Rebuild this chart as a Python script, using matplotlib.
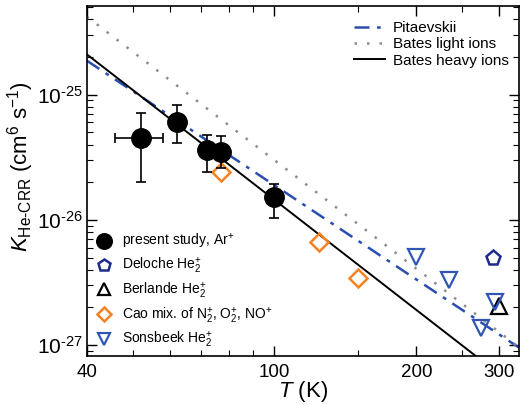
import numpy as np
import matplotlib
matplotlib.use("Agg")
import matplotlib.pyplot as plt
from matplotlib.ticker import FixedLocator, FixedFormatter, NullFormatter
from matplotlib.lines import Line2D

plt.rcParams['font.family'] = ['Liberation Sans', 'DejaVu Sans']
plt.rcParams['mathtext.fontset'] = 'custom'
plt.rcParams['mathtext.rm'] = 'Liberation Sans'
plt.rcParams['mathtext.it'] = 'Liberation Sans:italic'
plt.rcParams['mathtext.bf'] = 'Liberation Sans:bold'

# present study, Ar+
t_ar = [52, 62, 72, 77, 100]
k_ar = [4.5e-26, 6.1e-26, 3.65e-26, 3.5e-26, 1.52e-26]
k_ar_hi = [7.2e-26, 8.2e-26, 4.8e-26, 4.7e-26, 1.95e-26]
k_ar_lo = [2.0e-26, 4.1e-26, 2.4e-26, 2.6e-26, 1.03e-26]
t_ar_lo = [46, 62, 72, 77, 100]
t_ar_hi = [58, 62, 72, 77, 100]

# other measurements
t_deloche = [291]
k_deloche = [5.0e-27]
t_berlande = [300]
k_berlande = [2.05e-27]
t_cao = [77, 124, 150]
k_cao = [2.4e-26, 6.7e-27, 3.45e-27]
t_sons = [200, 234, 294, 274]
k_sons = [5.1e-27, 3.3e-27, 2.2e-27, 1.36e-27]

# theory: K = k40 * (T/40)^n
pit_k40, pit_n = 1.87e-25, -2.5
light_k40, light_n = 4.2e-25, -2.88
heavy_k40, heavy_n = 2.1e-25, -2.92

# ticks
x_ticks = [40, 100, 200, 300]
x_minor = [50, 60, 70, 80, 90, 150, 250]
y_ticks = [1e-27, 1e-26, 1e-25]
y_tick_labels = ['$10^{\u201027}$', '$10^{\u201026}$', '$10^{\u201025}$']

fig = plt.figure(figsize=(5.2, 4.05), dpi=100)
ax = fig.add_axes([0.167, 0.121, 0.831, 0.864])

T = np.logspace(np.log10(40), np.log10(330), 200)
l1, = ax.plot(T, pit_k40 * (T / 40) ** pit_n, color='#2a4db0', lw=1.8,
              ls=(0, (6, 3, 1.5, 3)), label='Pitaevskii')
l2, = ax.plot(T, light_k40 * (T / 40) ** light_n, color='#8c8c8c', lw=1.8,
              ls=(0, (1, 4)), label='Bates light ions')
l3, = ax.plot(T, heavy_k40 * (T / 40) ** heavy_n, color='black', lw=1.4,
              label='Bates heavy ions')

yerr = [np.array(k_ar) - np.array(k_ar_lo), np.array(k_ar_hi) - np.array(k_ar)]
xerr = [np.array(t_ar) - np.array(t_ar_lo), np.array(t_ar_hi) - np.array(t_ar)]
ax.errorbar(t_ar, k_ar, yerr=yerr, xerr=xerr, fmt='none', ecolor='black',
            elinewidth=1.2, capsize=3.5, capthick=1.2, zorder=4)

ax.plot(t_cao, k_cao, ls='none', marker='D', ms=9, mfc='none', mec='#f5821f',
        mew=1.8, zorder=3)
m_ar, = ax.plot(t_ar, k_ar, ls='none', marker='o', ms=14, color='black', zorder=5,
                label='present study, Ar$^{+}$')
m_del, = ax.plot(t_deloche, k_deloche, ls='none', marker='p', ms=11, mfc='none',
                 mec='#1e2a8c', mew=1.8, label='Deloche He$_2^{+}$')
m_ber, = ax.plot(t_berlande, k_berlande, ls='none', marker='^', ms=11, mfc='none',
                 mec='black', mew=1.6, label='Berlande He$_2^{+}$')
m_cao = Line2D([], [], ls='none', marker='D', ms=9, mfc='none', mec='#f5821f',
               mew=1.8, label='Cao mix. of N$_2^{+}$, O$_2^{+}$, NO$^{+}$')
m_son, = ax.plot(t_sons, k_sons, ls='none', marker='v', ms=11, mfc='none',
                 mec='#2f55b5', mew=1.6, label='Sonsbeek He$_2^{+}$')

ax.set_xscale('log')
ax.set_yscale('log')
ax.set_xlim(40, 330)
ax.set_ylim(8.2e-28, 5.1e-25)

ax.xaxis.set_major_locator(FixedLocator(x_ticks))
ax.xaxis.set_major_formatter(FixedFormatter([str(t) for t in x_ticks]))
ax.xaxis.set_minor_locator(FixedLocator(x_minor))
ax.xaxis.set_minor_formatter(NullFormatter())
y_minor = [m * d for d in [1e-28, 1e-27, 1e-26, 1e-25] for m in range(2, 10)]
y_minor = [v for v in y_minor if 8.2e-28 <= v <= 5.1e-25]
ax.yaxis.set_major_locator(FixedLocator(y_ticks))
ax.yaxis.set_major_formatter(FixedFormatter(y_tick_labels))
ax.yaxis.set_minor_locator(FixedLocator(y_minor))
ax.yaxis.set_minor_formatter(NullFormatter())

ax.tick_params(which='both', direction='in', top=True, right=True)
ax.tick_params(which='major', length=7, width=1.0)
ax.tick_params(which='minor', length=4, width=0.8)
ax.tick_params(axis='x', pad=6, labelsize=13.5)
ax.tick_params(axis='y', pad=3, labelsize=15)
for s in ax.spines.values():
    s.set_linewidth(1.2)

ax.set_xlabel('$T$ (K)', fontsize=16, labelpad=-2)
ax.set_ylabel('$K_{\\mathrm{He\u2010CRR}}$ (cm$^6$ s$^{-1}$)', fontsize=16)
ax.yaxis.set_label_coords(-0.118, 0.54)

leg1 = ax.legend(handles=[l1, l2, l3], loc='upper right', frameon=False,
                 fontsize=11, handlelength=2.0, handletextpad=0.5,
                 labelspacing=0.15, bbox_to_anchor=(0.99, 0.975), borderaxespad=0.0)
ax.add_artist(leg1)
ax.legend(handles=[m_ar, m_del, m_ber, m_cao, m_son], loc='lower left',
          frameon=False, fontsize=10, handlelength=1.0, labelspacing=0.35,
          markerscale=0.8, borderaxespad=0.0, bbox_to_anchor=(0.01, 0.0))

fig.savefig('out.png', dpi=100)
